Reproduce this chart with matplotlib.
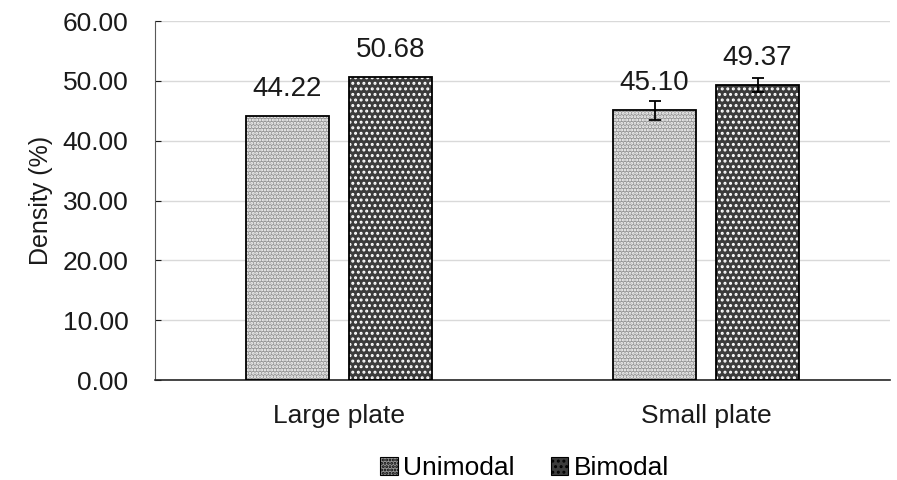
import matplotlib
matplotlib.use("Agg")
import matplotlib.pyplot as plt
import numpy as np
from matplotlib.patches import Patch

plt.rcParams['font.family'] = ['Liberation Sans', 'DejaVu Sans']
plt.rcParams['hatch.linewidth'] = 1.4

categories = ["Large plate", "Small plate"]
series_names = ["Unimodal", "Bimodal"]
unimodal = [44.22, 45.10]
bimodal = [50.68, 49.37]
unimodal_err = [0.0, 1.6]
bimodal_err = [0.0, 1.2]
y_ticks = [0, 10, 20, 30, 40, 50, 60]

styles = [
    dict(face="#969696", hatch="....."),
    dict(face="#3c3c3c", hatch="..."),
]

fig = plt.figure(figsize=(8.97, 4.8), dpi=100)
ax = fig.add_axes([0.1728, 0.2083, 0.8192, 0.7477])

x = np.arange(len(categories))
width = 0.226
gap = 0.054
offsets = [-(width + gap) / 2, (width + gap) / 2]

for vals, errs, off, st in zip([unimodal, bimodal], [unimodal_err, bimodal_err], offsets, styles):
    pos = x + off
    ax.bar(pos, vals, width, color=st["face"], hatch=st["hatch"],
           edgecolor="white", linewidth=0, zorder=2)
    ax.bar(pos, vals, width, fill=False, edgecolor="black", linewidth=1.3, zorder=3)
    show = [e > 0 for e in errs]
    ax.errorbar(pos[show], np.array(vals)[show], yerr=np.array(errs)[show],
                fmt="none", ecolor="black", elinewidth=1.3, capsize=4, capthick=1.3, zorder=4)
    for p, v in zip(pos, vals):
        ax.annotate(f"{v:.2f}", (p, v), xytext=(0, 10), textcoords="offset points",
                    ha="center", va="bottom", fontsize=20, color="#1a1a1a")

ax.set_xlim(-0.5, 1.5)
ax.set_ylim(0, 60)
ax.set_yticks(y_ticks)
ax.set_yticklabels([f"{t:.2f}" for t in y_ticks])
ax.set_xticks(x)
ax.set_xticklabels(categories)
ax.tick_params(axis="y", labelsize=19, direction="in", length=4, colors="#1a1a1a", pad=19)
ax.tick_params(axis="x", labelsize=19, length=0, colors="#1a1a1a", pad=17)
ax.set_ylabel("Density (%)", fontsize=18, color="#1a1a1a", labelpad=7)

ax.grid(axis="y", color="#d9d9d9", linewidth=1, zorder=0)
ax.set_axisbelow(True)
for s in ["top", "right"]:
    ax.spines[s].set_visible(False)
ax.spines["left"].set_color("#595959")
ax.spines["bottom"].set_color("#262626")
ax.spines["bottom"].set_linewidth(1.2)

handles = [Patch(facecolor=st["face"], hatch=st["hatch"], edgecolor="black", linewidth=0.8)
           for st in styles]
fig.legend(handles, series_names, loc="lower center", bbox_to_anchor=(0.585, -0.05),
           ncol=2, frameon=False, fontsize=19, handlelength=0.65, handleheight=0.65,
           handletextpad=0.2, columnspacing=1.4)

fig.savefig("out.png", dpi=100)
